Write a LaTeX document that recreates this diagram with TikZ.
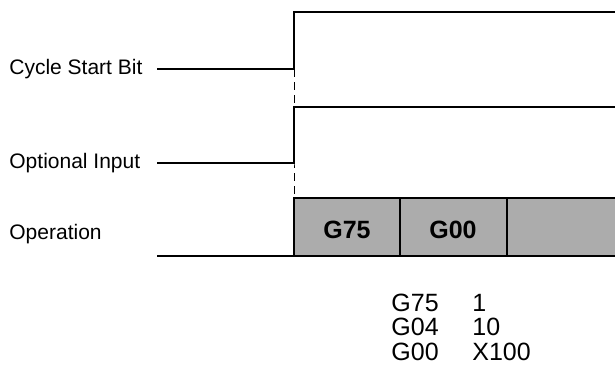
\documentclass[tikz,border=0pt]{standalone}
\usepackage{fontspec}
\setmainfont{Liberation Sans}
\usepackage{tikz}
\usetikzlibrary{positioning}
\definecolor{opgray}{RGB}{172,172,172}
\begin{document}
\begin{tikzpicture}[x=0.5pt,y=-0.5pt]
		\tikzstyle{siglabel}=[anchor=west,inner sep=0pt,font=\fontsize{10.5}{12}\selectfont]
		\tikzstyle{sigline}=[line width=1pt]
		\tikzstyle{opcell}=[font=\fontsize{12.5}{14}\selectfont\bfseries]
		\tikzstyle{prog}=[anchor=west,inner sep=0pt,font=\fontsize{12.5}{14}\selectfont]
		\useasboundingbox (0,0) rectangle (615,381);
		% labels
		\node[siglabel] (cycle) at (9,69)  {Cycle Start Bit};
		\node[siglabel] (opt)   at (9,163) {Optional Input};
		\node[siglabel] (oper)  at (9,234) {Operation};
		% cycle start bit
		\coordinate (c0) at (157,69);
		\coordinate (c1) at (294,69);
		\coordinate (c2) at (294,12);
		\coordinate (c3) at (615,12);
		\draw[sigline] (c0) -- (c1) -- (c2) -- (c3);
		% optional input
		\coordinate (o0) at (157,163);
		\coordinate (o1) at (294,163);
		\coordinate (o2) at (294,107);
		\coordinate (o3) at (615,107);
		\draw[sigline] (o0) -- (o1) -- (o2) -- (o3);
		% operation
		\coordinate (p0) at (157,256);
		\coordinate (p1) at (294,256);
		\coordinate (p2) at (294,198);
		\coordinate (p3) at (615,198);
		\coordinate (p4) at (615,256);
		\fill[opgray] (p2) rectangle (p4);
		\draw[sigline] (p0) -- (p1) -- (p4);
		\draw[line width=0.6pt] (p1) -- (p2) -- (p3);
		\draw[line width=0.6pt] (400,198) -- (400,256);
		\draw[line width=0.6pt] (507,198) -- (507,256);
		\node[opcell] (g75box) at (347,230) {G75};
		\node[opcell] (g00box) at (453,230) {G00};
		% dashed marker
		\draw[line width=0.4pt,dash pattern=on 4pt off 2.5pt] (c1) -- (o1) -- (p2);
		% program
		\node[prog] (l1a) at (391,303) {G75};
		\node[prog] (l1b) at (472,303) {1};
		\node[prog] (l2a) at (391,327) {G04};
		\node[prog] (l2b) at (472,327) {10};
		\node[prog] (l3a) at (391,352) {G00};
		\node[prog] (l3b) at (472,352) {X100};
	\end{tikzpicture}
\end{document}
